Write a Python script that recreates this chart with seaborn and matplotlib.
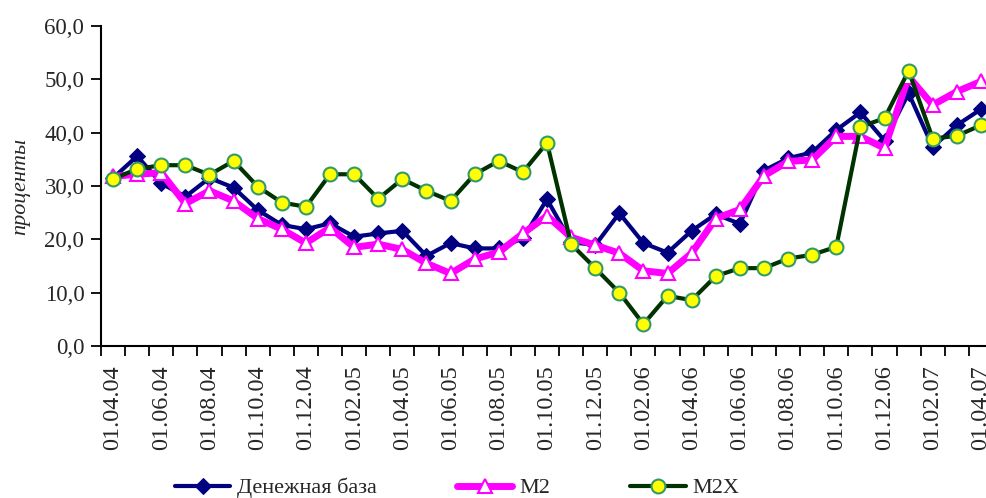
import numpy as np
import pandas as pd
import matplotlib
matplotlib.use("Agg")
import matplotlib.pyplot as plt
import seaborn as sns

dates = ["01.04.04", "01.05.04", "01.06.04", "01.07.04", "01.08.04", "01.09.04",
         "01.10.04", "01.11.04", "01.12.04", "01.01.05", "01.02.05", "01.03.05",
         "01.04.05", "01.05.05", "01.06.05", "01.07.05", "01.08.05", "01.09.05",
         "01.10.05", "01.11.05", "01.12.05", "01.01.06", "01.02.06", "01.03.06",
         "01.04.06", "01.05.06", "01.06.06", "01.07.06", "01.08.06", "01.09.06",
         "01.10.06", "01.11.06", "01.12.06", "01.01.07", "01.02.07", "01.03.07",
         "01.04.07"]

base = [31.5, 35.6, 30.5, 28.0, 31.5, 29.7, 25.5, 22.7, 21.9, 23.0, 20.5, 21.1,
        21.6, 16.9, 19.3, 18.3, 18.3, 20.2, 27.5, 19.5, 18.9, 24.9, 19.3, 17.5,
        21.6, 24.7, 22.9, 32.9, 35.2, 36.3, 40.5, 43.8, 38.5, 47.4, 37.3, 41.4, 44.4]

m2 = [31.8, 32.2, 32.5, 26.7, 29.1, 27.2, 23.9, 21.9, 19.3, 22.2, 18.5, 19.1,
      18.1, 15.5, 13.6, 16.3, 17.6, 21.1, 24.4, 20.4, 18.9, 17.4, 14.1, 13.6,
      17.4, 23.9, 25.6, 31.9, 34.6, 34.9, 39.3, 39.3, 37.1, 50.5, 45.2, 47.7, 49.6]

m2x = [31.3, 33.2, 33.9, 33.9, 32.1, 34.7, 29.9, 26.9, 26.1, 32.2, 32.2, 27.6,
       31.3, 29.1, 27.2, 32.2, 34.7, 32.6, 38.1, 19.1, 14.6, 10.0, 4.1, 9.4,
       8.6, 13.1, 14.6, 14.6, 16.4, 17.1, 18.6, 41.1, 42.7, 51.6, 38.9, 39.4, 41.4]

series_names = ["Денежная база", "M2", "M2X"]
yticks = [0, 10, 20, 30, 40, 50, 60]
ytick_labels = ["0,0", "10,0", "20,0", "30,0", "40,0", "50,0", "60,0"]

sns.set_theme(style="white")
plt.rcParams["font.family"] = ["Liberation Serif", "DejaVu Serif"]

idx = np.arange(len(dates))
df = pd.DataFrame({"pos": idx, series_names[0]: base, series_names[1]: m2, series_names[2]: m2x})

fig = plt.figure(figsize=(9.87, 4.98), dpi=100)
ax = fig.add_axes([101 / 987, 152 / 498, 892 / 987, 320 / 498])

sns.lineplot(data=df, x="pos", y=series_names[0], ax=ax, color="#000080", linewidth=3,
             marker="D", markersize=8, markerfacecolor="#000080", markeredgecolor="#000080",
             label=series_names[0], zorder=3)
sns.lineplot(data=df, x="pos", y=series_names[1], ax=ax, color="#FF00FF", linewidth=5,
             marker="^", markersize=10, markerfacecolor="white", markeredgecolor="#FF00FF",
             markeredgewidth=1.5, label=series_names[1], zorder=4)
sns.lineplot(data=df, x="pos", y=series_names[2], ax=ax, color="#003300", linewidth=3,
             marker="o", markersize=10, markerfacecolor="#FFFF00", markeredgecolor="#339966",
             markeredgewidth=1.5, label=series_names[2], zorder=5)

ax.set_xlim(-0.5, len(dates) - 0.5)
ax.set_ylim(0, 60)
ax.set_xlabel("")
ax.set_ylabel("проценты", fontsize=16, style="italic", labelpad=10)

ax.set_yticks(yticks)
ax.set_yticklabels(ytick_labels, fontsize=16.5)
ax.set_xticks(idx[::2])
ax.set_xticklabels(dates[::2], rotation=90, fontsize=17.5)
ax.set_xticks(np.arange(-0.5, len(dates), 1), minor=True)

ax.tick_params(axis="x", which="major", length=0, pad=14)
ax.tick_params(axis="x", which="minor", length=7, width=1.3, color="black", direction="out", bottom=True)
ax.tick_params(axis="y", which="major", length=7, width=1.3, color="black", direction="out", left=True, pad=5)

for s in ["top", "right"]:
    ax.spines[s].set_visible(False)
for s in ["left", "bottom"]:
    ax.spines[s].set_color("black")
    ax.spines[s].set_linewidth(1.5)
ax.grid(False)

handles, labels = ax.get_legend_handles_labels()
ax.legend(handles, labels, loc="center", bbox_to_anchor=(0.463, 0.02),
          bbox_transform=fig.transFigure, ncol=3, frameon=False, fontsize=16,
          handlelength=2.5, handletextpad=0.3, columnspacing=3.6, borderpad=0)

fig.savefig("out.png", dpi=100)
